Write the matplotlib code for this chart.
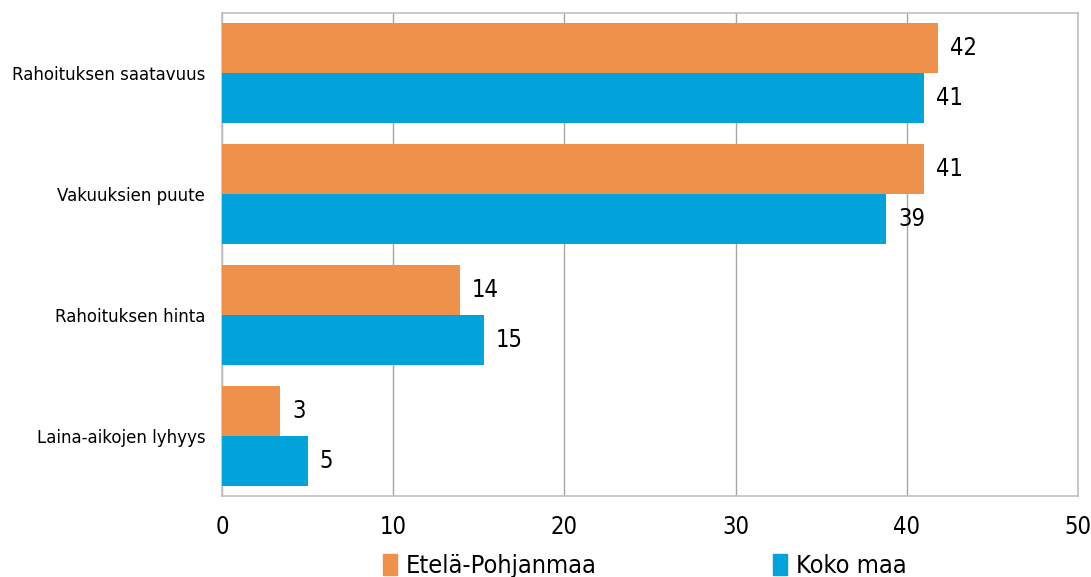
import numpy as np
import matplotlib
matplotlib.use('Agg')
import matplotlib.pyplot as plt
from matplotlib.patches import Patch
from matplotlib.font_manager import FontProperties

categories = ['Rahoituksen saatavuus', 'Vakuuksien puute', 'Rahoituksen hinta', 'Laina-aikojen lyhyys']
etela_pohjanmaa = [41.8, 41.0, 13.9, 3.4]
koko_maa = [41.0, 38.8, 15.3, 5.0]
series_names = ['Etelä-Pohjanmaa', 'Koko maa']
xticks = [0, 10, 20, 30, 40, 50]

c_orange = '#f0914b'
c_blue = '#02a3da'
fp = FontProperties(family='DejaVu Sans', stretch='condensed', size=17)
fp_leg = FontProperties(family='DejaVu Sans', stretch='condensed', size=18.2)

fig = plt.figure(figsize=(10.91, 5.77), dpi=100)
ax = fig.add_axes([0.2035, 0.1404, 0.7845, 0.8371])

y = np.arange(len(categories))
h = 0.414
ax.barh(y - h/2, etela_pohjanmaa, height=h, color=c_orange, zorder=3)
ax.barh(y + h/2, koko_maa, height=h, color=c_blue, zorder=3)

for yi, v in zip(y - h/2, etela_pohjanmaa):
    ax.text(v + 0.7, yi, str(int(round(v))), va='center', ha='left', fontproperties=fp)
for yi, v in zip(y + h/2, koko_maa):
    ax.text(v + 0.7, yi, str(int(round(v))), va='center', ha='left', fontproperties=fp)

ax.set_xlim(0, 50)
ax.set_ylim(len(categories) - 0.5, -0.5)
ax.set_xticks(xticks)
ax.set_xticklabels([str(t) for t in xticks], fontproperties=fp)
ax.set_yticks(y)
ax.set_yticklabels(categories, fontsize=12, family='DejaVu Sans')
ax.tick_params(axis='both', length=0)
ax.tick_params(axis='x', pad=14)
ax.tick_params(axis='y', pad=12)
ax.xaxis.grid(True, color='#a6a6a6', linewidth=1, zorder=0)
for s in ax.spines.values():
    s.set_color('#c0c0c0')
    s.set_linewidth(1.2)

handles = [Patch(color=c_orange), Patch(color=c_blue)]
fig.legend(handles, series_names, loc='lower center', bbox_to_anchor=(0.591, -0.042),
           ncol=2, frameon=False, columnspacing=7.0, handlelength=0.55, handleheight=0.9,
           handletextpad=0.35, prop=fp_leg)

fig.savefig('out.png', dpi=100)
